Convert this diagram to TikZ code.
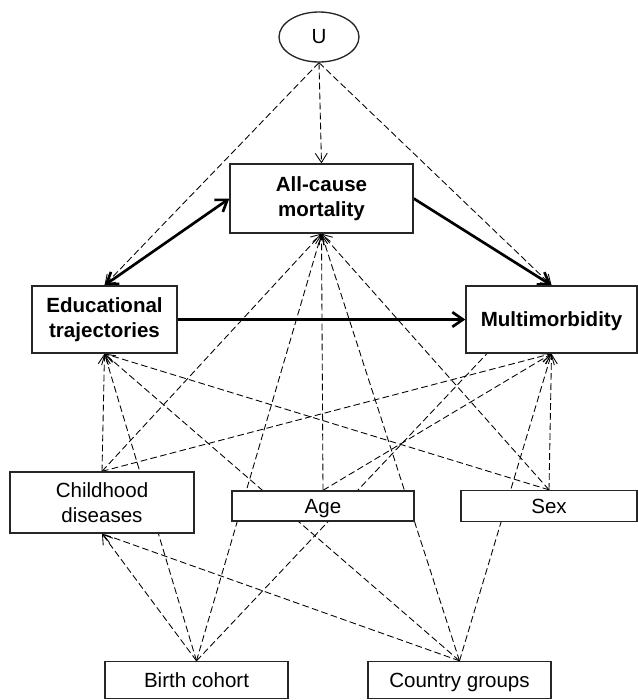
\documentclass[tikz,border=0pt]{standalone}
\usepackage{fontspec}
\setmainfont{Liberation Sans}
\usetikzlibrary{arrows.meta,backgrounds,shapes.geometric}
\begin{document}
\begin{tikzpicture}[x=0.75pt,y=-0.75pt,
  box/.style={draw=black!85,line width=1pt,fill=white,inner sep=0pt,align=center,
    font=\fontsize{15.4}{19}\selectfont},
  bbox/.style={box,font=\fontsize{15.4}{19}\selectfont\bfseries},
  oneline/.style={text height=11pt,text depth=0pt},
  dasharr/.style={line width=0.65pt,dash pattern=on 5pt off 2.5pt,
    -{Straight Barb[length=7pt,width=9pt,line width=0.65pt]}},
  thickarr/.style={line width=2pt,-{Straight Barb[length=8pt,width=11pt]}},
  thickbi/.style={line width=2pt,{Straight Barb[length=8pt,width=11pt]}-{Straight Barb[length=8pt,width=11pt]}}]
\useasboundingbox (0,0) rectangle (638,700);
% nodes
\node[ellipse,draw=black!85,line width=1pt,fill=white,minimum width=60pt,minimum height=37.5pt,inner sep=0pt,
  font=\fontsize{15.4}{19}\selectfont] (U) at (319,37) {U};
\node[bbox,minimum width=137.25pt,minimum height=51.75pt] (mort) at (321.5,198.5) {All-cause\\mortality};
\node[bbox,minimum width=108.75pt,minimum height=50.25pt] (edu) at (104.5,319.5) {Educational\\trajectories};
\node[bbox,oneline,minimum width=128.25pt,minimum height=50.25pt] (multi) at (551.5,319.5) {Multimorbidity};
\node[box,minimum width=138pt,minimum height=45.75pt] (child) at (102,502.5) {Childhood\\diseases};
\node[box,oneline,minimum width=136.5pt,minimum height=22.5pt] (age) at (323,506) {Age};
\node[box,oneline,minimum width=132pt,minimum height=23.25pt] (sex) at (549,506) {Sex};
\node[box,oneline,minimum width=137.25pt,minimum height=27.75pt] (birth) at (196.5,680) {Birth cohort};
\node[box,oneline,minimum width=137.25pt,minimum height=27.75pt] (country) at (459.5,680) {Country groups};
% connectors
\begin{pgfonlayer}{background}
\draw[dasharr] (U.south) -- (mort.north);
\draw[dasharr] (U.south) -- (edu.north);
\draw[dasharr] (U.south) -- (multi.north);
\draw[thickbi] (edu.north) -- (mort.west);
\draw[thickarr] (mort.east) -- (multi.north);
\draw[thickarr] (edu.east) -- (multi.west);
\draw[dasharr] (child.north) -- (edu.south);
\draw[dasharr] (child.north) -- (mort.south);
\draw[dasharr] (child.north) -- (multi.south);
\draw[dasharr] (sex.north) -- (edu.south);
\draw[dasharr] (sex.north) -- (mort.south);
\draw[dasharr] (sex.north) -- (multi.south);
\draw[dasharr] (age.north) -- (mort.south);
\draw[dasharr] (age.north) -- (multi.south);
\draw[dasharr] (birth.north) -- (child.south);
\draw[dasharr] (birth.north) -- (edu.south);
\draw[dasharr] (birth.north) -- (mort.south);
\draw[dasharr] (birth.north) -- (multi.north);
\draw[dasharr] (country.north) -- (child.south);
\draw[dasharr] (country.north) -- (edu.south);
\draw[dasharr] (country.north) -- (mort.south);
\draw[dasharr] (country.north) -- (multi.south);
\end{pgfonlayer}
\end{tikzpicture}
\end{document}
